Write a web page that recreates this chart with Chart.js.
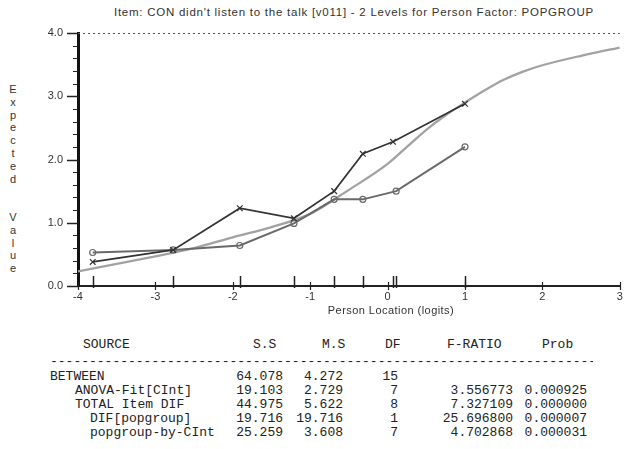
<!DOCTYPE html>
<html>
<head>
<meta charset="utf-8">
<script src="https://cdn.jsdelivr.net/npm/chart.js@4.4.1/dist/chart.umd.min.js"></script>
<style>
    body { margin: 0; background: #fff; }
    #wrap { position: relative; width: 625px; height: 449px; overflow: hidden; background: #fff; }
    #chartBox { position: absolute; left: 0; top: 0; width: 625px; height: 320px; }
    .txt { position: absolute; white-space: pre; color: #333; font-family: 'Liberation Sans', Arial, sans-serif; font-size: 11px; line-height: 14px; }
    .mono { position: absolute; white-space: pre; color: #222; font-family: 'Liberation Mono', 'Courier New', monospace; font-size: 13px; line-height: 14px; }
    #ylab { position: absolute; left: 6px; top: 83px; width: 14px; text-align: center; color: #333;
            font-family: 'Liberation Sans', Arial, sans-serif; font-size: 11px; line-height: 12.8px; }
</style>
</head>
<body>
<div id="wrap">
    <div class="txt" id="title" style="left:0; width:708px; text-align:center; top:5px; font-size:11.5px; letter-spacing:0.75px;">Item: CON didn't listen to the talk [v011] - 2 Levels for Person Factor: POPGROUP</div>
    <div id="ylab"></div>
    <div id="chartBox"><canvas id="iccChart" width="625" height="320"></canvas></div>
    <div class="txt" id="xtitle" style="left:291px; width:200px; text-align:center; top:303px; letter-spacing:0.45px;">Person Location (logits)</div>
    <div id="table"></div>
</div>

<script>
// chart data
const xTickValues = [-4, -3, -2, -1, 0, 1, 2, 3];
const yTickValues = [0, 1, 2, 3, 4];

// class interval locations for each group
const groupXLoc = [-3.81, -2.77, -1.91, -1.21, -0.69, -0.32, 0.07, 1.0];
const groupXVal = [0.38, 0.57, 1.23, 1.07, 1.50, 2.09, 2.28, 2.88];
const groupOLoc = [-3.81, -2.77, -1.91, -1.21, -0.69, -0.32, 0.11, 1.0];
const groupOVal = [0.53, 0.57, 0.64, 0.99, 1.37, 1.37, 1.50, 2.20];

// expected value curve
const curveLoc = [-4, -3.5, -3, -2.5, -2, -1.5, -1, -0.5, 0, 0.25, 0.5, 0.75, 1, 1.25, 1.5, 1.75, 2, 2.5, 3];
const curveVal = [0.23, 0.35, 0.47, 0.60, 0.77, 0.93, 1.14, 1.52, 1.93, 2.20, 2.47, 2.70, 2.90, 3.09, 3.26, 3.39, 3.49, 3.64, 3.77];

// ANOVA table
const tableSource = ['BETWEEN', 'ANOVA-Fit[CInt]', 'TOTAL Item DIF', 'DIF[popgroup]', 'popgroup-by-CInt'];
const tableIndent = [0, 1, 1, 2, 2];
const tableSS = ['64.078', '19.103', '44.975', '19.716', '25.259'];
const tableMS = ['4.272', '2.729', '5.622', '19.716', '3.608'];
const tableDF = ['15', '7', '8', '1', '7'];
const tableF = ['', '3.556773', '7.327109', '25.696800', '4.702868'];
const tableProb = ['', '0.000925', '0.000000', '0.000007', '0.000031'];

// stacked y axis title
const yLabel = 'Expected  Value';
document.getElementById('ylab').innerHTML = yLabel.split('').map(c => c === ' ' ? '&nbsp;' : c).join('<br>');

// build the table below the chart
function buildTable() {
    const table = document.getElementById('table');
    const add = (text, left, top, right) => {
        const el = document.createElement('div');
        el.className = 'mono';
        el.textContent = text;
        el.style.top = (top - 7) + 'px';
        if (right !== undefined) {
            el.style.right = (625 - right) + 'px';
        } else {
            el.style.left = left + 'px';
        }
        table.appendChild(el);
    };
    add('SOURCE', 83, 345);
    add('S.S', 253, 345);
    add('M.S', 322, 345);
    add('DF', 385, 345);
    add('F-RATIO', 447, 345);
    add('Prob', 542, 345);

    const dash = document.createElement('div');
    dash.className = 'mono';
    dash.style.cssText = 'left:50px; top:355px; width:543px; overflow:hidden;';
    dash.textContent = '-'.repeat(80);
    table.appendChild(dash);

    const indentPx = [50, 75, 90];
    tableSource.forEach((name, i) => {
        const y = 377 + i * 14;
        add(name, indentPx[tableIndent[i]], y);
        add(tableSS[i], 0, y, 283);
        add(tableMS[i], 0, y, 343);
        add(tableDF[i], 0, y, 398);
        if (tableF[i]) add(tableF[i], 0, y, 513);
        if (tableProb[i]) add(tableProb[i], 0, y, 587);
    });
}
buildTable();

// extra axis decorations: minor ticks, class interval ticks, dotted top line
const axisDecor = {
    id: 'axisDecor',
    afterDraw(chart) {
        const ctx = chart.ctx;
        const xs = chart.scales.x;
        const ys = chart.scales.y;
        const area = chart.chartArea;
        ctx.save();
        ctx.strokeStyle = '#222';

        // y major ticks
        ctx.lineWidth = 1.5;
        yTickValues.forEach(v => {
            const py = Math.round(ys.getPixelForValue(v)) + 0.5;
            ctx.beginPath();
            ctx.moveTo(area.left - 11, py);
            ctx.lineTo(area.left, py);
            ctx.stroke();
        });
        // y minor ticks
        ctx.lineWidth = 1;
        for (let i = 1; i < 20; i++) {
            if (i % 5 === 0) continue;
            const py = Math.round(ys.getPixelForValue(i * 0.2)) + 0.5;
            ctx.beginPath();
            ctx.moveTo(area.left - 5, py);
            ctx.lineTo(area.left, py);
            ctx.stroke();
        }
        // x integer ticks
        ctx.lineWidth = 1.2;
        xTickValues.forEach(v => {
            const px = Math.round(xs.getPixelForValue(v)) + 0.5;
            ctx.beginPath();
            ctx.moveTo(px, area.bottom - 4);
            ctx.lineTo(px, area.bottom + 4);
            ctx.stroke();
        });
        // class interval ticks
        ctx.lineWidth = 1.5;
        const locs = [...new Set(groupXLoc.concat(groupOLoc))];
        locs.forEach(v => {
            const px = Math.round(xs.getPixelForValue(v)) + 0.5;
            ctx.beginPath();
            ctx.moveTo(px, area.bottom - 10);
            ctx.lineTo(px, area.bottom + 2);
            ctx.stroke();
        });
        // dotted line at the top value
        ctx.strokeStyle = '#555';
        ctx.lineWidth = 1;
        ctx.setLineDash([2, 3]);
        const topY = Math.round(ys.getPixelForValue(4)) + 0.5;
        ctx.beginPath();
        ctx.moveTo(area.left, topY);
        ctx.lineTo(area.right, topY);
        ctx.stroke();
        ctx.restore();
    }
};

Chart.defaults.font.family = "'Liberation Sans', Arial, sans-serif";
Chart.defaults.font.size = 11;
Chart.defaults.color = '#333';

const toPoints = (xsArr, ysArr) => xsArr.map((x, i) => ({ x: x, y: ysArr[i] }));

new Chart(document.getElementById('iccChart'), {
    type: 'scatter',
    data: {
        datasets: [
            {
                label: 'x',
                data: toPoints(groupXLoc, groupXVal),
                showLine: true,
                borderColor: '#333',
                borderWidth: 1.7,
                pointStyle: 'crossRot',
                pointRadius: 4,
                pointBorderWidth: 1.2,
                pointBorderColor: '#333',
                pointBackgroundColor: '#333'
            },
            {
                label: 'o',
                data: toPoints(groupOLoc, groupOVal),
                showLine: true,
                borderColor: '#6a6a6a',
                borderWidth: 2,
                pointStyle: 'circle',
                pointRadius: 3,
                pointBorderWidth: 1.2,
                pointBorderColor: '#6a6a6a',
                pointBackgroundColor: 'rgba(255,255,255,0)'
            },
            {
                label: 'expected',
                data: toPoints(curveLoc, curveVal),
                showLine: true,
                borderColor: '#a2a2a2',
                borderWidth: 2.3,
                pointRadius: 0,
                cubicInterpolationMode: 'monotone'
            }
        ]
    },
    options: {
        responsive: false,
        animation: false,
        layout: { padding: { top: 33, right: 1, left: 0, bottom: 0 } },
        plugins: {
            legend: { display: false },
            title: { display: false },
            tooltip: { enabled: false }
        },
        scales: {
            x: {
                type: 'linear',
                min: -4,
                max: 3,
                afterFit: scale => { scale.height = 34; scale.paddingLeft = 0; scale.paddingRight = 0; },
                afterBuildTicks: scale => { scale.ticks = xTickValues.map(v => ({ value: v })); },
                ticks: { padding: 4, color: '#333', callback: v => String(v) },
                grid: { drawOnChartArea: false, drawTicks: false },
                border: { display: true, color: '#222', width: 2 }
            },
            y: {
                type: 'linear',
                min: 0,
                max: 4,
                afterFit: scale => { scale.width = 78; scale.paddingTop = 0; scale.paddingBottom = 0; },
                afterBuildTicks: scale => { scale.ticks = yTickValues.map(v => ({ value: v })); },
                ticks: { padding: 15, color: '#333', callback: v => Number(v).toFixed(1) },
                grid: { drawOnChartArea: false, drawTicks: false },
                border: { display: true, color: '#111', width: 3 }
            }
        }
    },
    plugins: [axisDecor]
});
</script>
</body>
</html>
